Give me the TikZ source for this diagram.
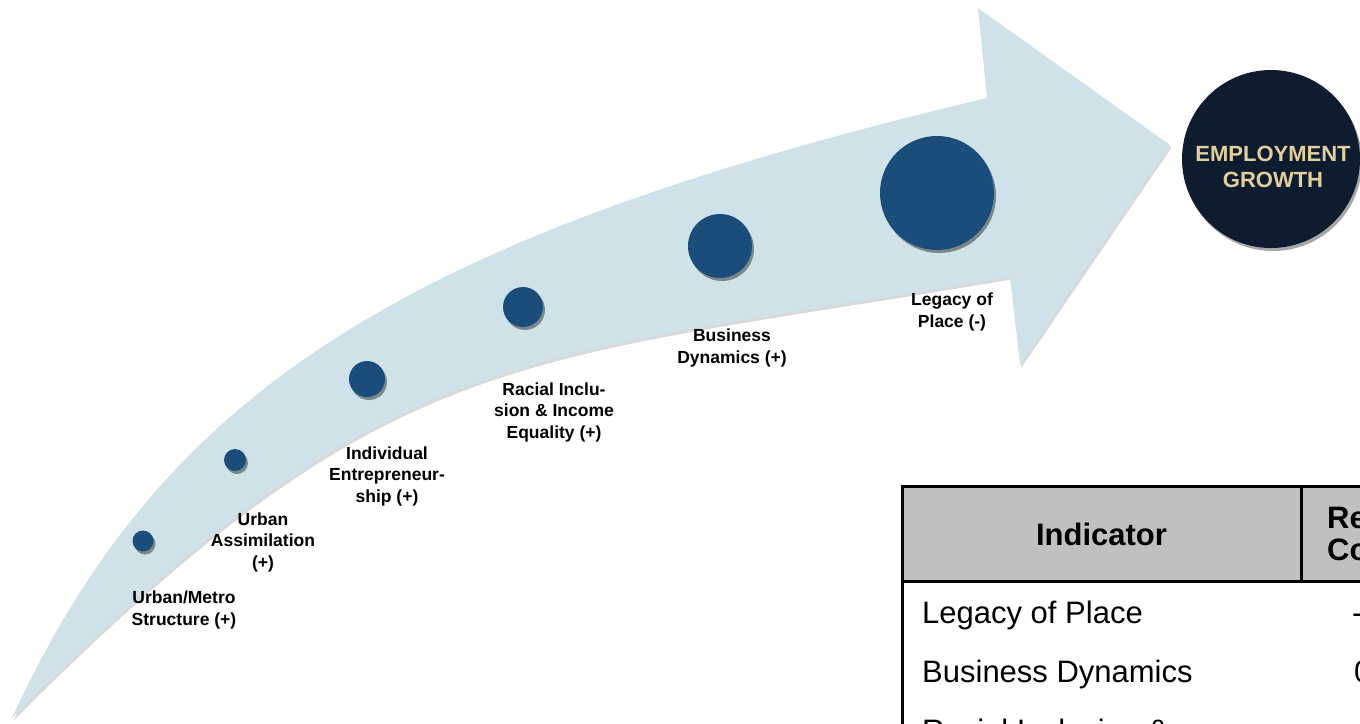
\documentclass[tikz,border=0pt]{standalone}
\usepackage{fontspec}
\setmainfont{Liberation Sans}
\usetikzlibrary{shadows}
\definecolor{arrowblue}{HTML}{CFE2EA}
\definecolor{dotblue}{HTML}{1A4D7A}
\definecolor{navy}{HTML}{0E1C30}
\definecolor{beige}{HTML}{E3CF9C}
\definecolor{headgray}{HTML}{C0C0C0}
\begin{document}
\begin{tikzpicture}[x=1pt,y=-1pt,
  dot/.style={circle, fill=dotblue, inner sep=0pt,
    drop shadow={shadow xshift=2pt, shadow yshift=-3pt, opacity=0.4, fill=black}},
  lbl/.style={align=center, font=\fontsize{17.5}{21.5}\selectfont\bfseries, inner sep=0pt},
  cell/.style={font=\fontsize{31}{36}\selectfont, inner sep=0pt, anchor=base west},
  hcell/.style={font=\fontsize{31}{32}\selectfont\bfseries, inner sep=0pt},
  rule/.style={line width=3pt}
]
\useasboundingbox (0,0) rectangle (1360,723);
\clip (0,0) rectangle (1360,723);

% curved arrow
\fill[arrowblue, drop shadow={shadow xshift=1.5pt, shadow yshift=-2.5pt, opacity=0.3, fill=gray}]
  (12,718) .. controls (163,390) and (405,236) .. (987,98)
  -- (978,8) -- (1170,145) -- (1020,365) -- (1010,277)
  .. controls (510,362) and (392,338) .. (12,718)
  -- cycle;

% dots
\node[dot, minimum size=21pt] (d1) at (143,541) {};
\node[dot, minimum size=22pt] (d2) at (235,460) {};
\node[dot, minimum size=36pt] (d3) at (367,379) {};
\node[dot, minimum size=40pt] (d4) at (523,307) {};
\node[dot, minimum size=64pt] (d5) at (720,246) {};
\node[dot, minimum size=114pt] (d6) at (937,193) {};

% labels
\node[lbl] (l1) at (184,610) {Urban/Metro\\Structure (+)};
\node[lbl] (l2) at (263,542) {Urban\\Assimilation\\(+)};
\node[lbl] (l3) at (387,476) {Individual\\Entrepreneur-\\ship (+)};
\node[lbl] (l4) at (554,412) {Racial Inclu-\\sion \& Income\\Equality (+)};
\node[lbl] (l5) at (732,348) {Business\\Dynamics (+)};
\node[lbl] (l6) at (952,312) {Legacy of\\Place (-)};

% employment growth
\node[circle, fill=navy, minimum size=178pt, inner sep=0pt,
  drop shadow={shadow xshift=2pt, shadow yshift=-3pt, opacity=0.35, fill=black}] (emp) at (1271,159) {};
\node[font=\fontsize{22}{26}\selectfont\bfseries, text=beige, align=center, inner sep=0pt] (empt) at (1273,167) {EMPLOYMENT\\GROWTH};

% table
\fill[headgray] (902,486) rectangle (1365,581);
\draw[rule] (902,486) -- (1365,486);
\draw[rule] (902,581) -- (1365,581);
\draw[rule] (902,484.5) -- (902,730);
\draw[rule] (1301,486) -- (1301,581);
\node[hcell] (hind) at (1101.5,534) {Indicator};
\node[hcell, anchor=west, align=left] (hrc) at (1327,534) {Re\\Co};
\node[cell] (r1) at (922,623) {Legacy of Place};
\node[cell] (r2) at (922,682) {Business Dynamics};
\node[cell] (r3) at (922,741) {Racial Inclusion \&};
\node[cell] (v1) at (1352,623) {-};
\node[cell] (v2) at (1354,682) {0};
\end{tikzpicture}
\end{document}
